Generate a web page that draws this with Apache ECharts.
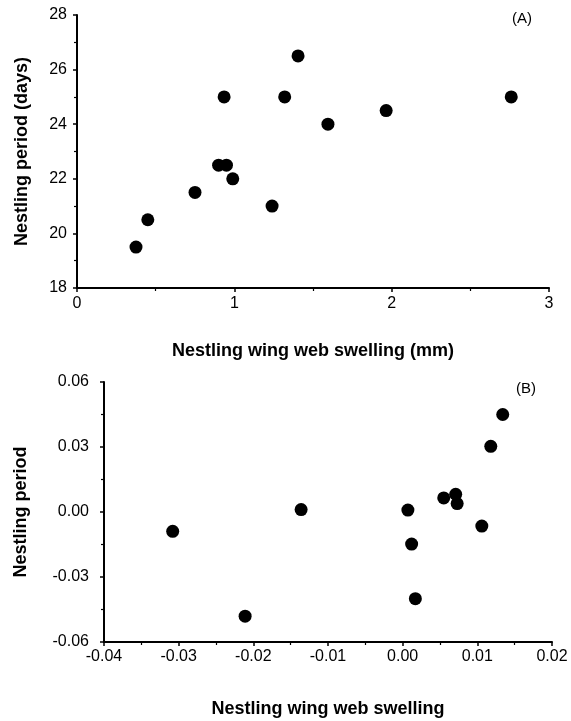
<!DOCTYPE html>
<html>
<head>
<meta charset="utf-8">
<script src="https://cdn.jsdelivr.net/npm/echarts@6/dist/echarts.min.js"></script>
<style>
  html, body { margin: 0; padding: 0; background: #fff; }
  #chart { width: 571px; height: 721px; }
</style>
</head>
<body>
<div id="chart"></div>
<script>
// panel A: wing web swelling (mm) vs nestling period (days)
const swellingA = [0.375, 0.45, 0.75, 0.90, 0.95, 0.935, 0.99, 1.24, 1.32, 1.405, 1.595, 1.965, 2.76];
const periodA   = [19.5, 20.5, 21.5, 22.5, 22.5, 25.0, 22.0, 21.0, 25.0, 26.5, 24.0, 24.5, 25.0];

// panel B: residuals
const swellingB = [-0.0308, -0.0211, -0.0136, 0.0007, 0.0055, 0.0071, 0.0073, 0.0106, 0.0012, 0.0017, 0.0118, 0.0134];
const periodB   = [-0.0089, -0.0481, 0.0011, 0.0009, 0.0065, 0.0082, 0.0039, -0.0065, -0.0148, -0.0400, 0.0303, 0.0450];

const tickLabelsBX = ['-0.04', '-0.03', '-0.02', '-0.01', '0.00', '0.01', '0.02'];
const tickLabelsBY = ['-0.06', '-0.03', '0.00', '0.03', '0.06'];

window.addEventListener('load', function () {
  let chart = echarts.init(document.getElementById('chart'), null, {renderer: 'canvas'});
  const font = 'Liberation Sans, Arial, Helvetica, sans-serif';

  function axisCommon(extra, labelMargin) {
    return Object.assign({
      type: 'value',
      axisLine: {show: true, onZero: false, lineStyle: {color: '#000', width: 2}},
      axisTick: {show: true, inside: false, length: 4, lineStyle: {color: '#000', width: 1.5}},
      minorTick: {show: true, splitNumber: 2, length: 3, lineStyle: {color: '#000', width: 1.2}},
      splitLine: {show: false},
      axisLabel: {color: '#000', fontSize: 16, fontFamily: font, margin: labelMargin},
      nameTextStyle: {color: '#000', fontSize: 18, fontWeight: 'bold', fontFamily: font}
    }, extra);
  }

  let option = {
    backgroundColor: '#fff',
    animation: false,
    grid: [
      {left: 77, top: 15, width: 472, height: 273},
      {left: 104, top: 382, width: 448, height: 260}
    ],
    xAxis: [
      axisCommon({gridIndex: 0, min: 0, max: 3, interval: 1,
        name: 'Nestling wing web swelling (mm)', nameLocation: 'middle', nameGap: 54}, 8),
      axisCommon({gridIndex: 1, min: -0.04, max: 0.02, interval: 0.01,
        name: 'Nestling wing web swelling', nameLocation: 'middle', nameGap: 58}, 7)
    ],
    yAxis: [
      axisCommon({gridIndex: 0, min: 18, max: 28, interval: 2,
        name: 'Nestling period (days)', nameLocation: 'middle', nameGap: 46, nameRotate: 90}, 10),
      axisCommon({gridIndex: 1, min: -0.06, max: 0.06, interval: 0.03,
        name: 'Nestling period', nameLocation: 'middle', nameGap: 74, nameRotate: 90}, 15)
    ],
    graphic: [
      {type: 'text', left: 512, top: 11, style: {text: '(A)', fontSize: 15, fontFamily: font, fill: '#000'}},
      {type: 'text', left: 516, top: 381, style: {text: '(B)', fontSize: 15, fontFamily: font, fill: '#000'}}
    ],
    series: [
      {
        type: 'scatter', xAxisIndex: 0, yAxisIndex: 0, symbolSize: 13,
        itemStyle: {color: '#000', opacity: 1},
        data: swellingA.map((x, i) => [x, periodA[i]])
      },
      {
        type: 'scatter', xAxisIndex: 1, yAxisIndex: 1, symbolSize: 13,
        itemStyle: {color: '#000', opacity: 1},
        data: swellingB.map((x, i) => [x, periodB[i]])
      }
    ]
  };

  // fixed-decimal labels for panel B
  option.xAxis[1].axisLabel.formatter = function (v) { return tickLabelsBX[Math.round((v + 0.04) / 0.01)]; };
  option.yAxis[1].axisLabel.formatter = function (v) { return tickLabelsBY[Math.round((v + 0.06) / 0.03)]; };

  chart.setOption(option);
});
</script>
</body>
</html>
